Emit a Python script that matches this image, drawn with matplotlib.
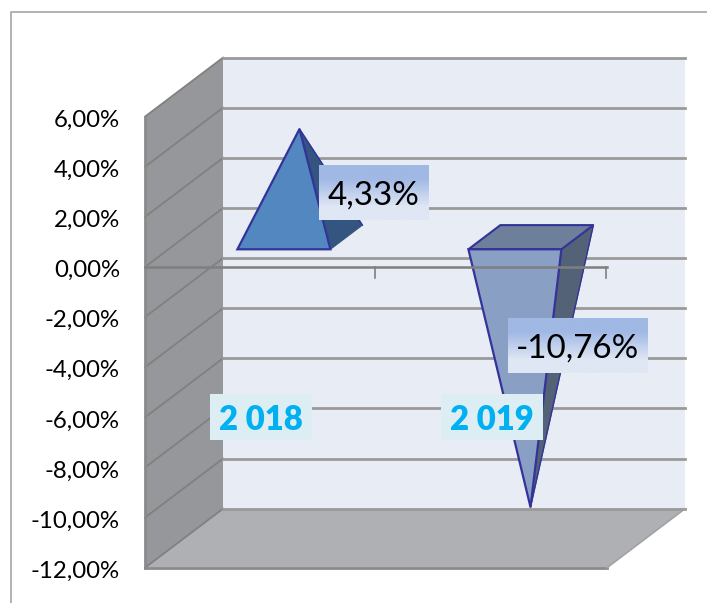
import numpy as np
import matplotlib
matplotlib.use("Agg")
import matplotlib.pyplot as plt
from matplotlib.patches import Polygon, Rectangle

plt.rcParams['font.family'] = ['Lato', 'DejaVu Sans']

categories = ['2 018', '2 019']
values = [4.33, -10.76]
value_labels = ['4,33%', '-10,76%']
y_ticks = [6, 4, 2, 0, -2, -4, -6, -8, -10, -12]
y_tick_labels = ['6,00%', '4,00%', '2,00%', '0,00%', '-2,00%', '-4,00%', '-6,00%', '-8,00%', '-10,00%', '-12,00%']

W, H = 707, 603
x_scale = 231.0  # pixels per category
y_scale = 25.06  # pixels per percent
x0_px, y0_px = 260.5, 267.0  # where category 0, value 0 falls on the front plane
depth_x = 78 / x_scale  # full depth of the box
depth_y = 59 / y_scale
half_w = 46.5 / x_scale  # half width of a pyramid base
d_front, d_mid, d_back = 0.30, 0.50, 0.71

fig = plt.figure(figsize=(W / 100, H / 100), dpi=100)
ax = fig.add_axes([0, 0, 1, 1])
ax.axis('off')


def pt(x, v, d=0.0):
    return (x + d * depth_x, v + d * depth_y)


def wall(points, color, z=1):
    ax.add_patch(Polygon(points, closed=True, fc=color, ec='none', zorder=z))


def gradient_box(xc, yc, w, h, top, bottom, z=8):
    c = np.array([matplotlib.colors.to_rgb(top), matplotlib.colors.to_rgb(bottom)])
    ax.imshow(c[:, None, :], extent=(xc - w / 2, xc + w / 2, yc - h / 2, yc + h / 2),
              aspect='auto', interpolation='bilinear', zorder=z)


x_left, x_right = -0.5, 1.5
y_top, y_bottom = y_ticks[0], y_ticks[-1]

# walls
wall([pt(x_left, y_top, 1), pt(x_right, y_top, 1), pt(x_right, y_bottom, 1), pt(x_left, y_bottom, 1)], '#e8ecf5')
wall([pt(x_left, y_top), pt(x_left, y_top, 1), pt(x_left, y_bottom, 1), pt(x_left, y_bottom)], '#96979a')
wall([pt(x_left, y_bottom), pt(x_left, y_bottom, 1), pt(x_right, y_bottom, 1), pt(x_right, y_bottom)], '#aeb0b3')

# gridlines on back and side wall
for v in y_ticks:
    a, b, c = pt(x_left, v), pt(x_left, v, 1), pt(x_right, v, 1)
    ax.plot([a[0], b[0]], [a[1], b[1]], color='#808080', lw=1.3, zorder=2)
    ax.plot([b[0], c[0]], [b[1], c[1]], color='#9a9a9a', lw=2.0, zorder=2)

# box edges
ax.plot([x_left, x_left], [y_top, y_bottom], color='#8a8a8a', lw=2, zorder=3)
ax.plot([x_left, x_right], [y_bottom, y_bottom], color='#8a8a8a', lw=2, zorder=3)
a, b = pt(x_right, y_bottom), pt(x_right, y_bottom, 1)
ax.plot([a[0], b[0]], [a[1], b[1]], color='#a0a2a5', lw=1.2, zorder=3)

# pyramids
edge = '#33339a'
face_colors = ['#5387c0', '#8a9fc4']
side_colors = ['#34557f', '#536276']
base_colors = ['#34557f', '#6e7f9b']
for i, v in enumerate(values):
    apex = pt(i, v, d_mid)
    fl, fr = pt(i - half_w, 0, d_front), pt(i + half_w, 0, d_front)
    bl, br = pt(i - half_w, 0, d_back), pt(i + half_w, 0, d_back)
    ax.add_patch(Polygon([fr, br, apex], closed=True, fc=side_colors[i], ec=side_colors[i], lw=0.8, zorder=4))
    if v < 0:
        ax.add_patch(Polygon([fl, bl, br, fr], closed=True, fc=base_colors[i], ec=edge, lw=1.5, zorder=4))
    ax.add_patch(Polygon([fl, fr, apex], closed=True, fc=face_colors[i], ec=edge, lw=1.6, zorder=5))
    ax.plot([br[0], apex[0]], [br[1], apex[1]], color=edge, lw=1.0, zorder=5)

# zero axis with tick marks
ax.plot([x_left, x_right], [0, 0], color='#7f7f7f', lw=1.8, zorder=6)
for i in range(len(categories)):
    tx = i + 0.5 - 1.5 / x_scale
    ax.plot([tx, tx], [0, -0.45], color='#7f7f7f', lw=1.2, zorder=6)

# value axis labels
for v, s in zip(y_ticks, y_tick_labels):
    ax.text(x_left - 25 / x_scale, v - 0.14, s, ha='right', va='center', fontsize=17.3, color='black', zorder=9)

# value labels
label_x = [0.491, 1.374]
label_y = [2.99, -3.12]
label_w = [110 / x_scale, 140 / x_scale]
label_h = 55 / y_scale
for xc, yc, w, s in zip(label_x, label_y, label_w, value_labels):
    gradient_box(xc, yc, w, label_h, '#a0b8e4', '#dfe6f4')
    ax.text(xc, yc - 0.14, s, ha='center', va='center', fontsize=23.9, color='black', zorder=9)

# category labels
cat_w = 102 / x_scale
cat_h = 46 / y_scale
for i, s in enumerate(categories):
    ax.add_patch(Rectangle((i - cat_w / 2, -6 - cat_h / 2), cat_w, cat_h, fc='#dceef4', ec='none', zorder=8))
    ax.text(i, -6.1, s, ha='center', va='center', fontsize=23.7, fontweight='heavy', color='#00b0f0', zorder=9)

# chart border (only top and left show)
fig.add_artist(plt.Line2D([11 / W, 11 / W, 1], [0, 1 - 12 / H, 1 - 12 / H], color='#a6a6a6', lw=1.2))

ax.set_xlim(-x0_px / x_scale, (W - x0_px) / x_scale)
ax.set_ylim(-(H - y0_px) / y_scale, y0_px / y_scale)
fig.savefig('out.png', dpi=100)
